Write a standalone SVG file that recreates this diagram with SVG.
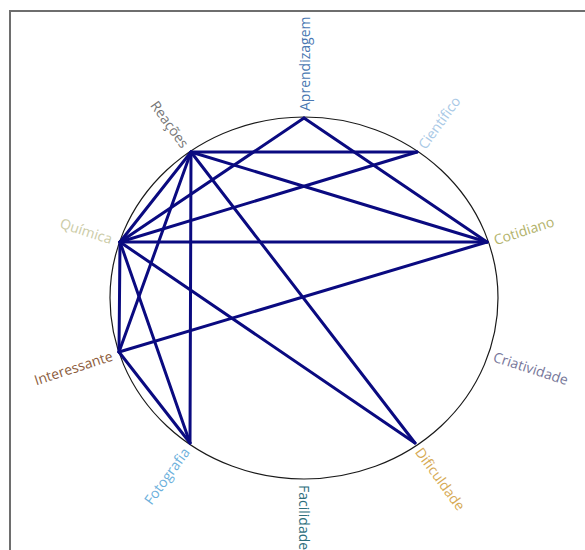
<svg xmlns="http://www.w3.org/2000/svg" width="585" height="550" viewBox="0 0 585 550">
<style>
.lbl{font-family:"Open Sans","Noto Sans","DejaVu Sans",sans-serif;font-size:14px;dominant-baseline:central}
.e{stroke:#0a0a80;stroke-width:3;stroke-linecap:round;fill:none}
</style>
<rect width="585" height="550" fill="#fff"/>
<rect x="10" y="11" width="600" height="580" fill="none" stroke="#6e6e6e" stroke-width="2"/>
<ellipse cx="304" cy="298" rx="194" ry="181" fill="none" stroke="#1a1a1a" stroke-width="1.2"/>
<g id="connectors">
<line class="e" x1="191" y1="152" x2="417" y2="152"/>
<line class="e" x1="191" y1="152" x2="487" y2="242"/>
<line class="e" x1="191" y1="152" x2="415" y2="443"/>
<line class="e" x1="191" y1="152" x2="190" y2="443"/>
<line class="e" x1="191" y1="152" x2="120" y2="242"/>
<line class="e" x1="191" y1="152" x2="119" y2="352"/>
<line class="e" x1="120" y1="242" x2="304" y2="118"/>
<line class="e" x1="120" y1="242" x2="417" y2="152"/>
<line class="e" x1="120" y1="242" x2="487" y2="242"/>
<line class="e" x1="120" y1="242" x2="415" y2="443"/>
<line class="e" x1="120" y1="242" x2="190" y2="443"/>
<line class="e" x1="120" y1="242" x2="119" y2="352"/>
<line class="e" x1="119" y1="352" x2="487" y2="242"/>
<line class="e" x1="119" y1="352" x2="190" y2="443"/>
<line class="e" x1="304" y1="118" x2="487" y2="242"/>
</g>
<g id="n-aprendizagem"><text class="lbl" fill="#4a78b2" transform="translate(304,111) rotate(-90)">Aprendizagem</text></g>
<g id="n-cientifico"><text class="lbl" fill="#a9c9e6" transform="translate(421,147) rotate(-54)">Científico</text></g>
<g id="n-cotidiano"><text class="lbl" fill="#b2b26a" transform="translate(494,240) rotate(-18)">Cotidiano</text></g>
<g id="n-criatividade"><text class="lbl" fill="#77779a" transform="translate(494,356) rotate(18)">Criatividade</text></g>
<g id="n-dificuldade"><text class="lbl" fill="#d6aa55" transform="translate(419,449) rotate(54)">Dificuldade</text></g>
<g id="n-facilidade"><text class="lbl" fill="#2d6e7c" transform="translate(304,485) rotate(90)">Facilidade</text></g>
<g id="n-fotografia"><text class="lbl" fill="#6cb0dc" text-anchor="end" transform="translate(186,449) rotate(-54)">Fotografia</text></g>
<g id="n-interessante"><text class="lbl" fill="#8c5c3c" text-anchor="end" transform="translate(112,355) rotate(-18)">Interessante</text></g>
<g id="n-quimica"><text class="lbl" fill="#cbcba6" text-anchor="end" transform="translate(112,239) rotate(18)">Química</text></g>
<g id="n-reacoes"><text class="lbl" fill="#767676" text-anchor="end" transform="translate(186,146) rotate(54)">Reações</text></g>
</svg>
